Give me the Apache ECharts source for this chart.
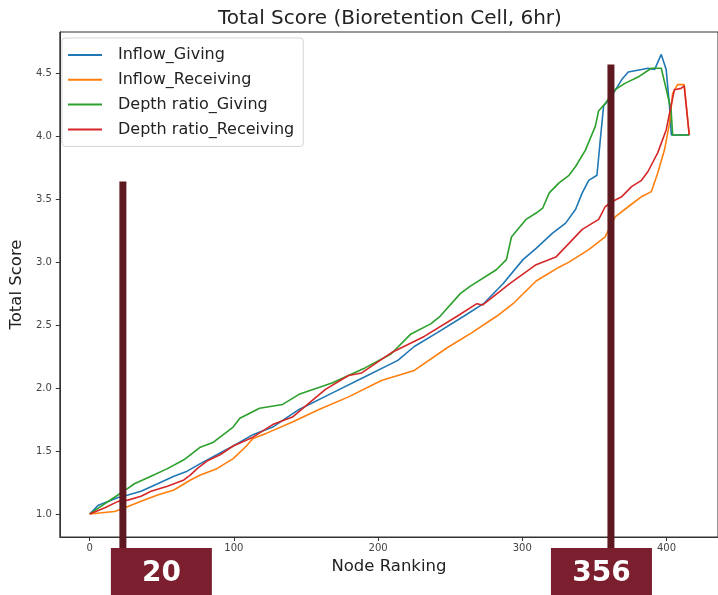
<!DOCTYPE html>
<html><head><meta charset="utf-8">
<script src="https://cdn.jsdelivr.net/npm/echarts@6/dist/echarts.min.js"></script>
<style>html,body{margin:0;padding:0;background:#fff}#c{width:718px;height:595px}</style>
</head><body><div id="c"></div>
<script>
const seriesNames = ['Inflow_Giving', 'Inflow_Receiving', 'Depth ratio_Giving', 'Depth ratio_Receiving'];
const inflowGiving = [[0,1.00],[6,1.07],[10.5,1.09],[19.7,1.13],[26.5,1.15],[35.6,1.18],[47.1,1.24],[58.4,1.30],[67.6,1.34],[76.7,1.40],[88.2,1.47],[99.5,1.54],[113.2,1.63],[126.9,1.69],[145.2,1.83],[168,1.96],[190.9,2.09],[213.7,2.22],[225.1,2.33],[241.1,2.44],[259.4,2.57],[273.1,2.67],[286.8,2.83],[300.5,3.02],[309.6,3.11],[321,3.23],[330.1,3.31],[337,3.42],[341.6,3.55],[346.1,3.65],[351.8,3.69],[354.1,3.97],[356.4,4.24],[362.1,4.32],[369,4.45],[373.5,4.51],[382.7,4.53],[387.2,4.54],[391.8,4.53],[396.4,4.65],[399.8,4.53],[402.1,4.24],[403.4,4.01],[415.8,4.01]];
const inflowReceiving = [[0,1.00],[8.2,1.01],[17.3,1.02],[26.5,1.06],[35.6,1.10],[47.1,1.15],[58.4,1.19],[69.9,1.27],[76.7,1.31],[88.2,1.36],[99.5,1.44],[108.7,1.54],[113.2,1.60],[122.4,1.64],[140.6,1.73],[159,1.83],[179.5,1.93],[202.3,2.06],[225.1,2.14],[247.9,2.32],[265.1,2.44],[282.2,2.57],[293.6,2.67],[309.6,2.85],[325.5,2.96],[332.4,3.00],[346.1,3.10],[357.5,3.20],[364.4,3.36],[373.5,3.44],[382.7,3.52],[389.5,3.56],[394,3.71],[398.6,3.89],[402.1,4.10],[404.3,4.34],[407.7,4.41],[412.3,4.41],[415.8,4.01]];
const depthGiving = [[0,1.00],[24.7,1.19],[31,1.24],[42.5,1.30],[53.9,1.36],[65.3,1.43],[76.7,1.53],[85.8,1.57],[99.5,1.69],[104.1,1.76],[117.8,1.84],[133.8,1.87],[145.2,1.95],[168,2.04],[190.9,2.16],[209,2.27],[222.8,2.43],[236.5,2.51],[243,2.57],[257,2.75],[264,2.81],[282,2.94],[289,3.02],[292.5,3.20],[302.7,3.34],[309.6,3.39],[314.2,3.43],[318.7,3.55],[325.5,3.63],[332.4,3.69],[337,3.76],[343.8,3.89],[350.7,4.08],[352.9,4.20],[357.5,4.26],[364.4,4.37],[371.2,4.42],[380.3,4.47],[389.5,4.54],[396.4,4.54],[403.2,4.21],[404.3,4.01],[415.8,4.01]];
const depthReceiving = [[0,1.00],[10.5,1.05],[19.7,1.10],[26.5,1.11],[35.6,1.14],[42.5,1.18],[53.9,1.22],[65.3,1.27],[69.9,1.31],[74.5,1.36],[81.3,1.42],[90.4,1.47],[99.5,1.54],[113.2,1.61],[126.9,1.71],[140.6,1.77],[152.1,1.88],[163.5,1.99],[179.5,2.10],[188.6,2.12],[209.1,2.28],[232,2.41],[254.8,2.57],[268.5,2.67],[272.6,2.66],[291.3,2.83],[309.6,2.98],[323.3,3.04],[341.6,3.26],[353,3.34],[357.5,3.44],[362.1,3.48],[369,3.52],[375.8,3.60],[382.7,3.65],[387.2,3.72],[394,3.87],[399.8,4.05],[403.2,4.24],[405.5,4.37],[410.1,4.38],[412.3,4.40],[415.8,4.01]];
const xTicks = [0, 100, 200, 300, 400];
const yTicks = [1.0, 1.5, 2.0, 2.5, 3.0, 3.5, 4.0, 4.5];
const markerX = [23, 361.5];
const markerTop = [3.64, 4.57];
const markerLabels = ['20', '356'];

const X_MIN = -20.75, X_MAX = 435.75, Y_MIN = 0.817, Y_MAX = 4.828;
const colors = ['#1f77b4', '#ff7f0e', '#2ca02c', '#d62728'];
const annot = { boxOffset: [-12, -60], boxWidth: 101, boxGap: 11, barWidth: 7, barColor: '#5e1820', boxColor: '#7b1f2e' };
const FONT = 'DejaVu Sans';

const chart = echarts.init(document.getElementById('c'), null, { renderer: 'canvas' });
const lineData = [inflowGiving, inflowReceiving, depthGiving, depthReceiving];
const series = seriesNames.map((name, i) => ({
  name, type: 'line', data: lineData[i], showSymbol: false, symbol: 'none',
  lineStyle: { width: 1.6, color: colors[i] }, itemStyle: { color: colors[i] },
  z: 2 + i, animation: false
}));
series.push({
  type: 'custom', name: 'markers', silent: true, z: 20, clip: false,
  encode: { x: 0, y: 1 },
  data: markerX.map((x, i) => [x, markerTop[i], i]),
  renderItem: function (params, api) {
    const i = api.value(2);
    const top = api.coord([api.value(0), api.value(1)]);
    const base = api.coord([api.value(0), Y_MIN]);
    const boxTop = base[1] + annot.boxGap;
    const bx = top[0] + annot.boxOffset[i];
    return {
      type: 'group', children: [
        { type: 'rect', shape: { x: top[0] - annot.barWidth / 2, y: top[1], width: annot.barWidth, height: boxTop - top[1] + 2 }, style: { fill: annot.barColor } },
        { type: 'rect', shape: { x: bx, y: boxTop, width: annot.boxWidth, height: 80 }, style: { fill: annot.boxColor } },
        { type: 'text', x: bx + annot.boxWidth / 2, y: boxTop + 25.5, style: { text: markerLabels[i], fill: '#fff', font: 'bold 28px "DejaVu Sans"', align: 'center', verticalAlign: 'middle' } }
      ]
    };
  }
});

chart.setOption({
  animation: false,
  backgroundColor: '#fff',
  title: {
    text: 'Total Score (Bioretention Cell, 6hr)', left: 213, top: 4,
    textStyle: { fontSize: 20, fontWeight: 'normal', color: '#222', fontFamily: FONT }
  },
  legend: {
    data: seriesNames, orient: 'vertical', left: 62, top: 38,
    padding: [7, 9, 7, 6], itemGap: 4.8, itemWidth: 34, itemHeight: 2, icon: 'rect',
    borderColor: '#d5d5d5', borderWidth: 1, borderRadius: 3, backgroundColor: '#fff',
    textStyle: { fontSize: 16, fontFamily: FONT, color: '#222', lineHeight: 20, padding: [0, 0, 0, 11] }
  },
  grid: { left: 58, right: -6, top: 32, bottom: 58, show: true, borderColor: '#333', borderWidth: 1, backgroundColor: 'transparent' },
  xAxis: {
    type: 'value', min: X_MIN, max: X_MAX,
    name: 'Node Ranking', nameLocation: 'middle', nameGap: 21,
    nameTextStyle: { fontSize: 16.5, fontFamily: FONT, color: '#222' },
    axisLine: { show: true, onZero: false, lineStyle: { color: '#333', width: 1 } },
    axisTick: { show: true, length: 4, customValues: xTicks, lineStyle: { color: '#333' } },
    axisLabel: { customValues: xTicks, fontSize: 10, color: '#444', fontFamily: FONT, margin: 6 },
    splitLine: { show: false }
  },
  yAxis: {
    type: 'value', min: Y_MIN, max: Y_MAX,
    name: 'Total Score', nameLocation: 'middle', nameGap: 27, nameRotate: 90,
    nameTextStyle: { fontSize: 16.5, fontFamily: FONT, color: '#222' },
    axisLine: { show: true, onZero: false, lineStyle: { color: '#333', width: 1 } },
    axisTick: { show: true, length: 4, customValues: yTicks, lineStyle: { color: '#333' } },
    axisLabel: { customValues: yTicks, fontSize: 10, color: '#444', fontFamily: FONT, margin: 8, formatter: v => v.toFixed(1) },
    splitLine: { show: false }
  },
  series
});
</script></body></html>
